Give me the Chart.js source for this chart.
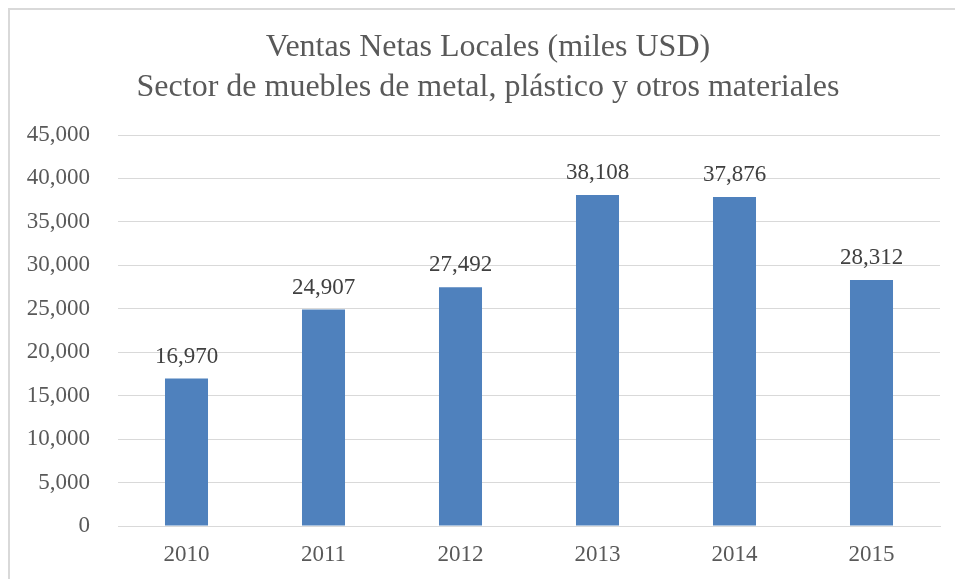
<!DOCTYPE html>
<html>
<head>
<meta charset="utf-8">
<script src="https://cdn.jsdelivr.net/npm/chart.js@4.4.1/dist/chart.umd.min.js"></script>
<style>
  html, body { margin: 0; padding: 0; background: #ffffff; overflow: hidden; width: 955px; height: 579px; }
  #frame { position: absolute; left: 8px; top: 8px; width: 1000px; height: 1000px; border: 2px solid #d9d9d9; box-sizing: border-box; }
  #wrap { position: absolute; left: 0; top: 0; width: 955px; height: 579px; }
</style>
</head>
<body>
<div id="frame"></div>
<div id="wrap"><canvas id="c" width="955" height="579"></canvas></div>
<script>
const titleLines = ["Ventas Netas Locales (miles USD)", "Sector de muebles de metal, plástico y otros materiales"];
const categories = ["2010", "2011", "2012", "2013", "2014", "2015"];
const ventas = [16970, 24907, 27492, 38108, 37876, 28312];
const yMin = 0, yMax = 45000, yStep = 5000;

const FONT = "'Liberation Serif', 'Times New Roman', serif";
const TXT = "#595959";
const fmt = v => v.toLocaleString('en-US');

const valueLabels = {
  id: 'valueLabels',
  afterLayout(chart) {
    // let the y tick labels extend into the left padding (not clipped)
    chart.scales.y.left = 0;
  },
  afterDatasetsDraw(chart) {
    const ctx = chart.ctx;
    const meta = chart.getDatasetMeta(0);
    ctx.save();
    ctx.font = "23px " + FONT;
    ctx.fillStyle = "#404040";
    ctx.textAlign = "center";
    ctx.textBaseline = "middle";
    meta.data.forEach((bar, i) => {
      ctx.fillText(fmt(chart.data.datasets[0].data[i]), bar.x, bar.y - 22);
    });
    ctx.restore();
  }
};

new Chart(document.getElementById('c'), {
  type: 'bar',
  data: {
    labels: categories,
    datasets: [{
      data: ventas,
      backgroundColor: '#4F81BD',
      borderWidth: 0,
      categoryPercentage: 1,
      barPercentage: 0.314
    }]
  },
  options: {
    responsive: false,
    animation: false,
    devicePixelRatio: 1,
    layout: { padding: { left: 36, right: 15, top: 0, bottom: 0 } },
    plugins: {
      legend: { display: false },
      tooltip: { enabled: false },
      title: {
        display: true,
        text: titleLines,
        color: TXT,
        font: { family: FONT, size: 32, weight: 'normal', lineHeight: 1.25 },
        padding: { top: 28, bottom: 27 }
      }
    },
    scales: {
      x: {
        afterFit(scale) { scale.height = 53; },
        grid: { display: false, drawTicks: false },
        border: { display: true, color: '#d9d9d9', width: 1 },
        ticks: { color: TXT, font: { family: FONT, size: 23 }, padding: 15 }
      },
      y: {
        min: yMin, max: yMax,
        afterFit(scale) { scale.width = 82; },
        grid: { color: '#d9d9d9', lineWidth: 1, drawTicks: false },
        border: { display: false },
        ticks: { stepSize: yStep, color: TXT, font: { family: FONT, size: 23 }, padding: 28, callback: v => fmt(v) }
      }
    }
  },
  plugins: [valueLabels]
});
</script>
</body>
</html>
